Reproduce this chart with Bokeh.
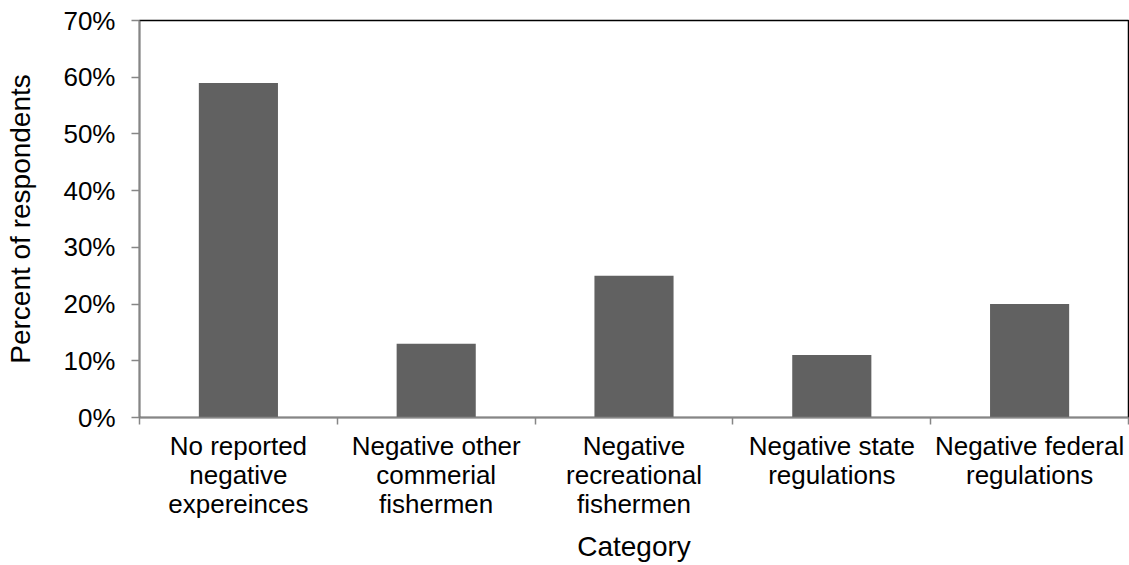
from bokeh.plotting import figure
from bokeh.models import Range1d, FixedTicker, NumeralTickFormatter
from bokeh.embed import file_html
from bokeh.resources import INLINE

categories = [
    "No reported\nnegative\nexpereinces",
    "Negative other\ncommerial\nfishermen",
    "Negative\nrecreational\nfishermen",
    "Negative state\nregulations",
    "Negative federal\nregulations",
]
values = [0.59, 0.13, 0.25, 0.11, 0.20]
y_ticks = [0.0, 0.1, 0.2, 0.3, 0.4, 0.5, 0.6, 0.7]

n = len(categories)
xs = [i + 0.5 for i in range(n)]

FONT = "Liberation Sans"

p = figure(width=1129, height=565, output_backend="svg", toolbar_location=None,
           x_range=Range1d(0, n), y_range=Range1d(0, 0.7),
           min_border_left=139, min_border_right=1, min_border_top=20, min_border_bottom=148)
p.outline_line_color = "black"
p.outline_line_width = 1.5
p.grid.visible = False
p.background_fill_color = "white"
p.border_fill_color = "white"

p.vbar(x=xs, top=values, width=0.4, bottom=0, fill_color="#616161", line_color=None)

xa = p.xaxis[0]
xa.ticker = FixedTicker(ticks=xs, minor_ticks=list(range(n + 1)))
xa.major_label_overrides = {x: c for x, c in zip(xs, categories)}
xa.major_tick_out = 0
xa.major_tick_in = 0
xa.minor_tick_out = 7
xa.minor_tick_in = 0
xa.minor_tick_line_color = "#868686"
xa.axis_line_color = "#868686"
xa.axis_line_width = 1.5
xa.minor_tick_line_width = 1.5
xa.major_label_text_font = FONT
xa.major_label_text_font_size = "26px"
xa.major_label_text_line_height = 0.97
xa.major_label_text_color = "black"
xa.major_label_standoff = 6
xa.axis_label = "Category"
xa.axis_label_text_font = FONT
xa.axis_label_text_font_size = "28px"
xa.axis_label_text_font_style = "normal"
xa.axis_label_text_color = "black"
xa.axis_label_standoff = 9

ya = p.yaxis[0]
ya.ticker = FixedTicker(ticks=y_ticks, minor_ticks=[])
ya.formatter = NumeralTickFormatter(format="0%")
ya.major_tick_out = 8
ya.major_tick_in = 0
ya.major_tick_line_color = "#868686"
ya.major_tick_line_width = 1.5
ya.axis_line_color = "#868686"
ya.axis_line_width = 1.5
ya.major_label_text_font = FONT
ya.major_label_text_font_size = "26px"
ya.major_label_text_color = "black"
ya.major_label_standoff = 16
ya.axis_label = "Percent of respondents"
ya.axis_label_text_font = FONT
ya.axis_label_text_font_size = "28px"
ya.axis_label_text_font_style = "normal"
ya.axis_label_text_color = "black"
ya.axis_label_standoff = 24

open("out.html", "w").write(file_html(p, INLINE))
